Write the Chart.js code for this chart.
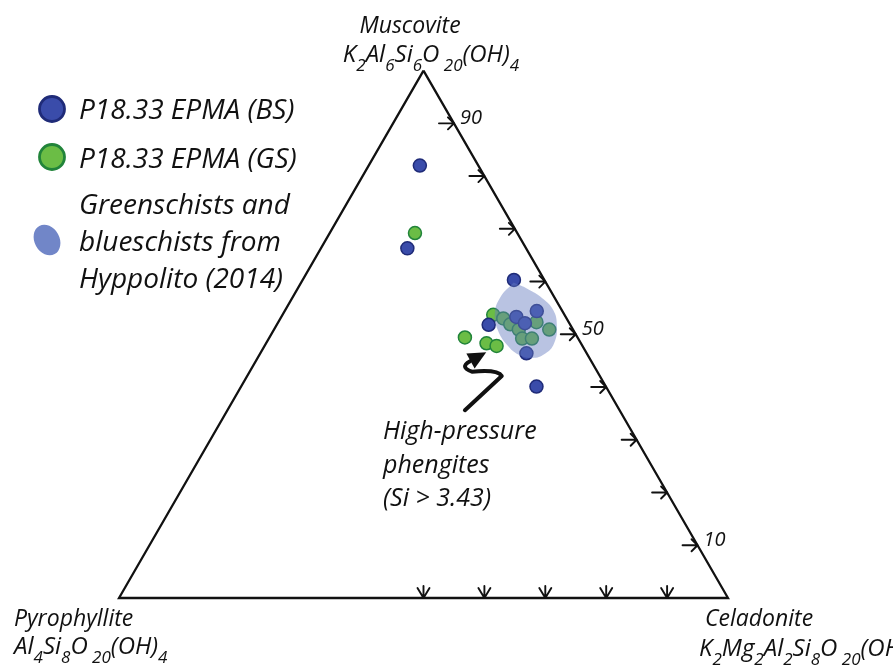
<!DOCTYPE html>
<html>
<head>
<meta charset="utf-8">
<script src="https://cdn.jsdelivr.net/npm/chart.js@4.4.1/dist/chart.umd.min.js"></script>
<style>
  html, body { margin: 0; padding: 0; background: #fff; }
  #wrap { width: 893px; height: 667px; }
</style>
</head>
<body>
<div id="wrap"><canvas id="ternary" width="893" height="667"></canvas></div>
<script>
// compositions in % (Muscovite, Celadonite; Pyrophyllite is the rest)
const bsMus = [82.0, 66.3, 60.3, 54.4, 53.3, 52.1, 51.8, 46.4, 40.1];
const bsCel = [8.4, 14.2, 34.7, 41.4, 38.6, 40.6, 34.8, 43.7, 48.5];

const gsMus = [69.2, 53.7, 53.0, 51.9, 50.9, 52.3, 50.9, 49.2, 49.2, 49.4, 48.3, 47.8];
const gsCel = [14.0, 34.6, 36.6, 38.3, 40.2, 42.4, 45.2, 41.6, 43.2, 32.1, 36.2, 38.1];

// outline of the Hyppolito (2014) field
const fieldMus = [59.8, 58.6, 56.9, 54.6, 51.6, 48.3, 46.3, 45.5, 46.1, 48.0, 50.8, 53.8, 56.9, 59.8];
const fieldCel = [34.9, 37.8, 41.0, 44.0, 46.1, 47.3, 46.8, 45.1, 42.6, 39.7, 36.8, 34.8, 34.1, 34.9];

// annotation arrow path (Muscovite, Celadonite)
const arrowMus = [35.6, 42.1, 43.0, 42.9, 43.8, 44.9, 46.6];
const arrowCel = [39.0, 41.8, 40.7, 36.5, 34.6, 35.2, 37.0];

const musTicks = [10, 20, 30, 40, 50, 60, 70, 80, 90];
const musTickLabels = [90, 50, 10];
const celTicks = [50, 60, 70, 80, 90];

const H = Math.sqrt(3) / 2;
const toXY = (m, c) => ({ x: c + m / 2, y: m * H });
const pts = (mus, cel) => mus.map((m, i) => toXY(m, cel[i]));

const FONT = '"Open Sans", Lato, sans-serif';

function richText(ctx, parts, x, y, size, align) {
    // parts: [text, isSub]
    const subSize = Math.round(size * 0.7);
    let total = 0;
    parts.forEach(p => {
        ctx.font = 'italic ' + (p[1] ? subSize : size) + 'px ' + FONT;
        total += ctx.measureText(p[0]).width;
    });
    let cx = align === 'center' ? x - total / 2 : x;
    ctx.textAlign = 'left';
    parts.forEach(p => {
        ctx.font = 'italic ' + (p[1] ? subSize : size) + 'px ' + FONT;
        ctx.fillText(p[0], cx, p[1] ? y + size * 0.38 : y);
        cx += ctx.measureText(p[0]).width;
    });
}

const decorPlugin = {
    id: 'decor',
    afterDatasetsDraw(chart) {
        const ctx = chart.ctx;
        const sx = chart.scales.x, sy = chart.scales.y;
        const px = p => ({ x: sx.getPixelForValue(p.x), y: sy.getPixelForValue(p.y) });
        ctx.save();
        ctx.strokeStyle = '#111';
        ctx.fillStyle = '#111';
        ctx.lineWidth = 1.9;
        ctx.lineCap = 'round';
        ctx.lineJoin = 'round';

        // ticks on the Muscovite-Celadonite edge
        musTicks.forEach(m => {
            const p = px(toXY(m, 100 - m));
            ctx.beginPath();
            ctx.moveTo(p.x - 15, p.y);
            ctx.lineTo(p.x, p.y);
            ctx.moveTo(p.x - 6, p.y - 6);
            ctx.lineTo(p.x, p.y);
            ctx.lineTo(p.x - 6, p.y + 6);
            ctx.stroke();
        });
        // ticks on the base
        celTicks.forEach(c => {
            const p = px(toXY(0, c));
            ctx.beginPath();
            ctx.moveTo(p.x, p.y - 12);
            ctx.lineTo(p.x, p.y);
            ctx.moveTo(p.x - 6, p.y - 10);
            ctx.lineTo(p.x, p.y);
            ctx.lineTo(p.x + 6, p.y - 10);
            ctx.stroke();
        });

        ctx.textBaseline = 'alphabetic';
        ctx.font = 'italic 20px ' + FONT;
        ctx.textAlign = 'left';
        musTickLabels.forEach(m => {
            const p = px(toXY(m, 100 - m));
            ctx.fillText(String(m), p.x + 6, p.y + 1);
        });

        // arrow
        const a = arrowMus.map((m, i) => px(toXY(m, arrowCel[i])));
        ctx.lineWidth = 4;
        ctx.beginPath();
        ctx.moveTo(a[0].x, a[0].y);
        ctx.lineTo(a[1].x, a[1].y);
        ctx.quadraticCurveTo(a[2].x, a[2].y - 2, a[3].x, a[3].y);
        ctx.quadraticCurveTo(a[4].x - 4, a[4].y, a[5].x, a[5].y);
        ctx.stroke();
        const tip = a[6], from = a[5];
        const ang = Math.atan2(tip.y - from.y, tip.x - from.x);
        ctx.beginPath();
        ctx.moveTo(tip.x, tip.y);
        ctx.lineTo(tip.x - 18 * Math.cos(ang) + 8.5 * Math.sin(ang), tip.y - 18 * Math.sin(ang) - 8.5 * Math.cos(ang));
        ctx.lineTo(tip.x - 18 * Math.cos(ang) - 8.5 * Math.sin(ang), tip.y - 18 * Math.sin(ang) + 8.5 * Math.cos(ang));
        ctx.closePath();
        ctx.fill();

        // annotation
        ctx.font = 'italic 25px ' + FONT;
        ctx.fillText('High-pressure', 383, 439);
        ctx.fillText('phengites', 383, 473);
        ctx.fillText('(Si > 3.43)', 383, 506);

        // vertex labels
        ctx.font = 'italic 23px ' + FONT;
        ctx.textAlign = 'center';
        ctx.fillText('Muscovite', 410, 33);
        richText(ctx, [['K', 0], ['2', 1], ['Al', 0], ['6', 1], ['Si', 0], ['6', 1], ['O', 0], [' 20', 1], ['(OH)', 0], ['4', 1]], 431, 62, 24, 'center');
        ctx.font = 'italic 23px ' + FONT;
        ctx.textAlign = 'left';
        ctx.fillText('Pyrophyllite', 14, 626);
        richText(ctx, [['Al', 0], ['4', 1], ['Si', 0], ['8', 1], ['O', 0], [' 20', 1], ['(OH)', 0], ['4', 1]], 14, 654, 24, 'left');
        ctx.font = 'italic 23px ' + FONT;
        ctx.textAlign = 'left';
        ctx.fillText('Celadonite', 705, 626);
        richText(ctx, [['K', 0], ['2', 1], ['Mg', 0], ['2', 1], ['Al', 0], ['2', 1], ['Si', 0], ['8', 1], ['O', 0], [' 20', 1], ['(OH)', 0], ['4', 1]], 699, 656, 24, 'left');

        // legend
        ctx.lineWidth = 2.8;
        ctx.beginPath();
        ctx.arc(52, 109, 12.5, 0, Math.PI * 2);
        ctx.fillStyle = '#3a4caa';
        ctx.fill();
        ctx.strokeStyle = '#1f2b78';
        ctx.stroke();
        ctx.beginPath();
        ctx.arc(52, 157, 12.5, 0, Math.PI * 2);
        ctx.fillStyle = '#6bbd45';
        ctx.fill();
        ctx.strokeStyle = '#21843a';
        ctx.stroke();
        ctx.beginPath();
        ctx.ellipse(47, 240, 12.5, 16, -0.5, 0, Math.PI * 2);
        ctx.fillStyle = '#7186c8';
        ctx.fill();

        ctx.fillStyle = '#111';
        ctx.font = 'italic 28px ' + FONT;
        ctx.textAlign = 'left';
        ctx.fillText('P18.33 EPMA (BS)', 79, 119);
        ctx.fillText('P18.33 EPMA (GS)', 79, 168);
        ctx.fillText('Greenschists and', 79, 214);
        ctx.fillText('blueschists from', 79, 251);
        ctx.fillText('Hyppolito (2014)', 79, 288);
        ctx.restore();
    }
};

new Chart(document.getElementById('ternary'), {
    type: 'scatter',
    data: {
        datasets: [
            {
                label: 'Greenschists and blueschists from Hyppolito (2014)',
                data: pts(fieldMus, fieldCel),
                showLine: true,
                fill: 'shape',
                tension: 0.45,
                backgroundColor: 'rgba(100, 122, 190, 0.45)',
                borderWidth: 0,
                borderColor: 'rgba(0,0,0,0)',
                pointRadius: 0,
                order: 0
            },
            {
                label: 'outline',
                data: [toXY(100, 0), toXY(0, 100), toXY(0, 0), toXY(100, 0)],
                showLine: true,
                borderColor: '#111',
                borderWidth: 2.3,
                pointRadius: 0,
                fill: false,
                order: 1
            },
            {
                label: 'P18.33 EPMA (BS)',
                data: pts(bsMus, bsCel),
                backgroundColor: '#3a4caa',
                borderColor: '#1f2b78',
                borderWidth: 1.5,
                pointRadius: 6.5,
                order: 2
            },
            {
                label: 'P18.33 EPMA (GS)',
                data: pts(gsMus, gsCel),
                backgroundColor: '#6bbd45',
                borderColor: '#21843a',
                borderWidth: 1.5,
                pointRadius: 6.5,
                order: 2
            }
        ]
    },
    options: {
        responsive: false,
        animation: false,
        devicePixelRatio: 1,
        layout: { padding: 0, autoPadding: false },
        scales: {
            x: { type: 'linear', min: -119 / 6.09, max: (893 - 119) / 6.09, display: false },
            y: { type: 'linear', min: -(667 - 598) / 6.09, max: 598 / 6.09, display: false }
        },
        plugins: {
            legend: { display: false },
            tooltip: { enabled: false }
        }
    },
    plugins: [decorPlugin]
});
</script>
</body>
</html>
